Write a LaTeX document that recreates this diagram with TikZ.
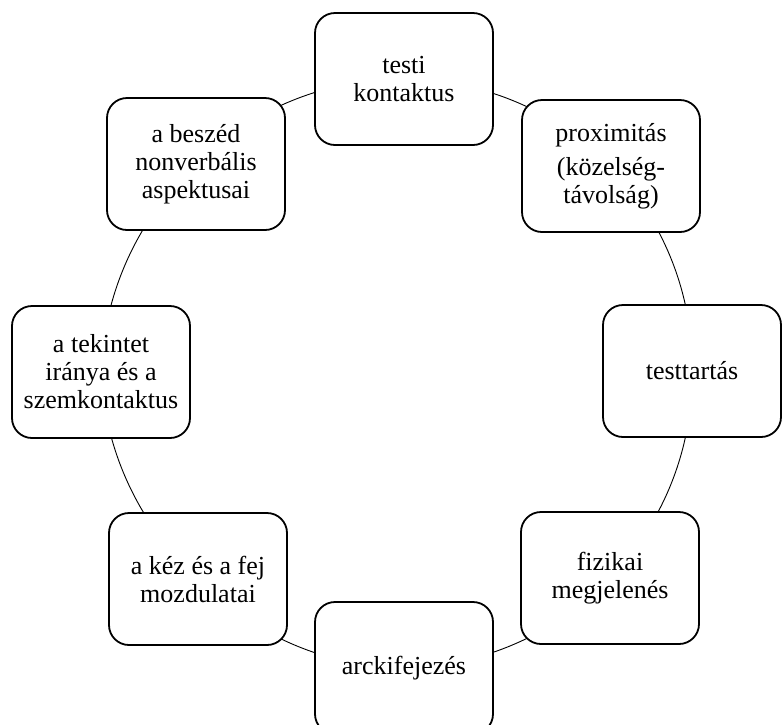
\documentclass[tikz,border=0pt]{standalone}
\usepackage{fontspec}
\setmainfont{Liberation Serif}
\usetikzlibrary{backgrounds}
\begin{document}
\begin{tikzpicture}[x=1pt,y=-1pt,
  item/.style={draw, line width=1.8pt, fill=white, rounded corners=20pt,
    minimum width=178pt, minimum height=132pt, align=center,
    font=\fontsize{26}{28}\selectfont, inner sep=2pt},
  ring/.style={line width=0.9pt, bend left=22.5, looseness=0.885}]
\useasboundingbox (0,0) rectangle (782,724);
% the eight boxes around the cycle
\node[item] (n1) at (404,79)  {testi\\kontaktus};
\node[item] (n2) at (611,166) {proximitás\\[6pt](közelség-\\távolság)};
\node[item] (n3) at (692,371) {testtartás};
\node[item] (n4) at (610,578) {fizikai\\megjelenés};
\node[item] (n5) at (404,668) {arckifejezés};
\node[item] (n6) at (198,579) {a kéz és a fej\\mozdulatai};
\node[item] (n7) at (101,372) {a tekintet\\iránya és a\\szemkontaktus};
\node[item] (n8) at (196,164) {a beszéd\\nonverbális\\aspektusai};
% the ring joining them
\begin{scope}[on background layer]
  \draw[ring] (n1.center) to (n2.center);
  \draw[ring] (n2.center) to (n3.center);
  \draw[ring] (n3.center) to (n4.center);
  \draw[ring] (n4.center) to (n5.center);
  \draw[ring] (n5.center) to (n6.center);
  \draw[ring] (n6.center) to (n7.center);
  \draw[ring] (n7.center) to (n8.center);
  \draw[ring] (n8.center) to (n1.center);
\end{scope}
\end{tikzpicture}
\end{document}
